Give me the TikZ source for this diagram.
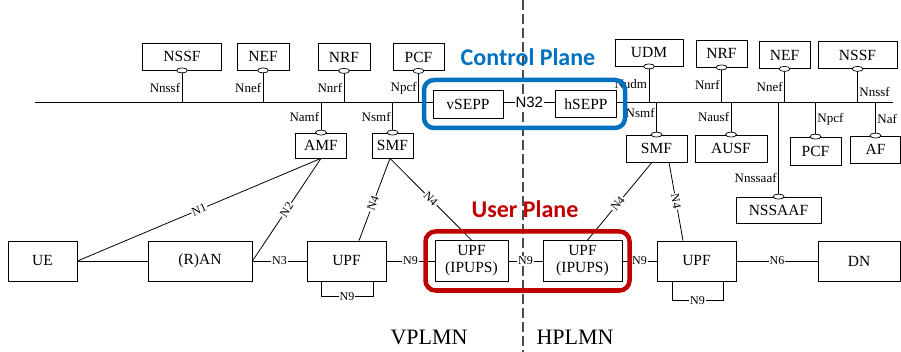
\documentclass[tikz,border=0pt]{standalone}
\usepackage{fontspec}
\setmainfont{Liberation Serif}
\newfontfamily\nsans{Liberation Sans}
\newfontfamily\nplane{Carlito}
\usetikzlibrary{shapes.geometric}
\definecolor{cpblue}{RGB}{0,112,192}
\definecolor{upred}{RGB}{192,0,0}
\begin{document}
\begin{tikzpicture}[x=1pt, y=-1pt, line width=0.8pt,
    nfbox/.style={draw, fill=white, inner sep=0pt, minimum height=27pt,
      font=\fontsize{15.5}{17}\selectfont},
    upbox/.style={nfbox, minimum height=40pt},
    port/.style={draw, ellipse, fill=white, inner sep=0pt, line width=0.7pt,
      minimum width=11pt, minimum height=5pt},
    iflabel/.style={inner sep=1.5pt, font=\fontsize{13}{15}\selectfont},
    reflabel/.style={fill=white, inner sep=1pt, font=\fontsize{12}{14}\selectfont},
    planeframe/.style={draw, rounded corners=10pt, line width=4.5pt, inner sep=0pt},
    planetitle/.style={font=\nplane\bfseries\fontsize{24}{28}\selectfont},
    plmntitle/.style={font=\fontsize{22}{26}\selectfont}]
  \useasboundingbox (0,0) rectangle (901,352);
  % border between visited and home network
  \draw[black!70, line width=1.3pt, dash pattern=on 10pt off 4pt] (523,0) -- (523,352);
  \coordinate (busL) at (35,102);
  \coordinate (busR) at (893,102);
  % network functions
  \node[nfbox, minimum width=79pt] (nssfV) at (182,56.5) {NSSF};
  \node[nfbox, minimum width=52pt] (nefV) at (263,56.5) {NEF};
  \node[nfbox, minimum width=52pt] (nrfV) at (344,57) {NRF};
  \node[nfbox, minimum width=51pt] (pcfV) at (418.5,57) {PCF};
  \node[nfbox, minimum width=51pt, minimum height=25pt] (amf) at (321,145.5) {AMF};
  \node[nfbox, minimum width=41pt, minimum height=25pt] (smfV) at (392.5,145.5) {SMF};
  \node[nfbox, minimum width=70pt, minimum height=28pt] (vsepp) at (468,104) {vSEPP};
  \node[nfbox, minimum width=61pt] (hsepp) at (586,104) {hSEPP};
  \node[nfbox, minimum width=68pt] (udm) at (649,52.5) {UDM};
  \node[nfbox, minimum width=51pt] (nrfH) at (721.5,53.5) {NRF};
  \node[nfbox, minimum width=51pt] (nefH) at (784.5,55) {NEF};
  \node[nfbox, minimum width=79pt] (nssfH) at (857.5,55) {NSSF};
  \node[nfbox, minimum width=61pt] (smfH) at (656.5,148.5) {SMF};
  \node[nfbox, minimum width=72pt] (ausf) at (731,148.5) {AUSF};
  \node[nfbox, minimum width=51pt, minimum height=28pt] (pcfH) at (815.5,151) {PCF};
  \node[nfbox, minimum width=50pt] (af) at (875.5,149.5) {AF};
  \node[nfbox, minimum width=85pt, minimum height=26pt] (nssaaf) at (778.5,210) {NSSAAF};
  % user plane
  \node[upbox, minimum width=69pt] (ue) at (42.5,261) {UE};
  \node[upbox, minimum width=104pt] (ran) at (200,261) {(R)AN};
  \node[upbox, minimum width=79pt] (upfV) at (346.5,261) {UPF};
  \node[upbox, minimum width=73pt, minimum height=41pt, align=center] (ipupsV) at (471.5,261) {UPF\\(IPUPS)};
  \node[upbox, minimum width=79pt, minimum height=41pt, align=center] (ipupsH) at (582.5,261) {UPF\\(IPUPS)};
  \node[upbox, minimum width=79pt] (upfH) at (696.5,261) {UPF};
  \node[upbox, minimum width=82pt] (dn) at (859,261) {DN};
  % service bus
  \draw (busL) -- (busL -| vsepp.west);
  \draw (vsepp.east |- busL) -- node[reflabel, font=\nsans\fontsize{15}{17}\selectfont]{N32} (hsepp.west |- busL);
  \draw (hsepp.east |- busL) -- (busR);
  \draw (nssfV.south) -- node[iflabel, pos=.55, left]{Nnssf} (nssfV.south |- busL);
  \draw (nefV.south) -- node[iflabel, pos=.55, left]{Nnef} (nefV.south |- busL);
  \draw (nrfV.south) -- node[iflabel, pos=.55, left]{Nnrf} (nrfV.south |- busL);
  \draw (pcfV.south) -- node[iflabel, pos=.55, left]{Npcf} (pcfV.south |- busL);
  \draw (amf.north |- busL) -- node[iflabel, pos=.5, left]{Namf} (amf.north);
  \draw (smfV.north |- busL) -- node[iflabel, pos=.5, left]{Nsmf} (smfV.north);
  \draw (udm.south) -- node[iflabel, pos=.5, left]{Nudm} (udm.south |- busL);
  \draw (nrfH.south) -- node[iflabel, pos=.5, left]{Nnrf} (nrfH.south |- busL);
  \draw (nefH.south) -- node[iflabel, pos=.55, left]{Nnef} (nefH.south |- busL);
  \draw (nssfH.south) -- node[iflabel, pos=.7, right]{Nnssf} (nssfH.south |- busL);
  \draw (smfH.north |- busL) -- node[iflabel, pos=.35, left]{Nsmf} (smfH.north);
  \draw (ausf.north |- busL) -- node[iflabel, pos=.45, left]{Nausf} (ausf.north);
  \draw (nssaaf.north |- busL) -- node[iflabel, pos=.8, left]{Nnssaaf} (nssaaf.north);
  \draw (pcfH.north |- busL) -- node[iflabel, pos=.5, right]{Npcf} (pcfH.north);
  \draw (af.north |- busL) -- node[iflabel, pos=.5, right]{Naf} (af.north);
  % reference points
  \draw (ue.east) -- (ran.west);
  \draw (ue.east) -- node[reflabel, sloped]{N1} (amf.south);
  \draw (ran.east) -- node[reflabel, sloped]{N2} (amf.south);
  \draw (ran.east) -- node[reflabel]{N3} (upfV.west);
  \draw ([xshift=-2.5pt]smfV.south) -- node[reflabel, sloped, pos=.55]{N4} ([xshift=12.5pt]upfV.north);
  \draw ([xshift=-2.5pt]smfV.south) -- node[reflabel, sloped]{N4} (ipupsV.north);
  \draw ([xshift=-4.5pt]smfH.south) -- node[reflabel, sloped, pos=.53]{N4} ([xshift=5pt]ipupsH.north);
  \draw ([xshift=12.5pt]smfH.south) -- node[reflabel, sloped]{N4} ([xshift=-13.5pt]upfH.north);
  \draw (upfV.east) -- node[reflabel]{N9} (ipupsV.west);
  \draw (ipupsV.east) -- node[reflabel]{N9} (ipupsH.west);
  \draw (ipupsH.east) -- node[reflabel]{N9} (upfH.west);
  \draw (upfH.east) -- node[reflabel]{N6} (dn.west);
  \draw ([xshift=-25.5pt]upfV.south) -- ++(0,15) -- node[reflabel]{N9} ++(52,0) -- ([xshift=26.5pt]upfV.south);
  \draw ([xshift=-24.5pt]upfH.south) -- ++(0,19) -- node[reflabel]{N9} ++(51,0) -- ([xshift=26.5pt]upfH.south);
  % attachment points
  \node[port] at (nssfV.south) {};
  \node[port] at (nefV.south) {};
  \node[port] at (nrfV.south) {};
  \node[port] at (pcfV.south) {};
  \node[port] at (amf.north) {};
  \node[port] at (smfV.north) {};
  \node[port] at (udm.south) {};
  \node[port] at (nrfH.south) {};
  \node[port] at (nefH.south) {};
  \node[port] at (nssfH.south) {};
  \node[port] at (smfH.north) {};
  \node[port] at (ausf.north) {};
  \node[port] at (nssaaf.north) {};
  \node[port] at (pcfH.north) {};
  \node[port] at (af.north) {};
  % planes
  \node[planeframe, cpblue, minimum width=201pt, minimum height=48pt] (cp) at (524.5,104) {};
  \node[planeframe, upred, minimum width=204pt, minimum height=59pt] (up) at (527.5,261) {};
  \node[planetitle, text=cpblue] (cptitle) at (528,57) {Control Plane};
  \node[planetitle, text=upred] (uptitle) at (525,209) {User Plane};
  \node[plmntitle] (vplmn) at (429,337) {VPLMN};
  \node[plmntitle] (hplmn) at (575,337) {HPLMN};
\end{tikzpicture}
\end{document}
